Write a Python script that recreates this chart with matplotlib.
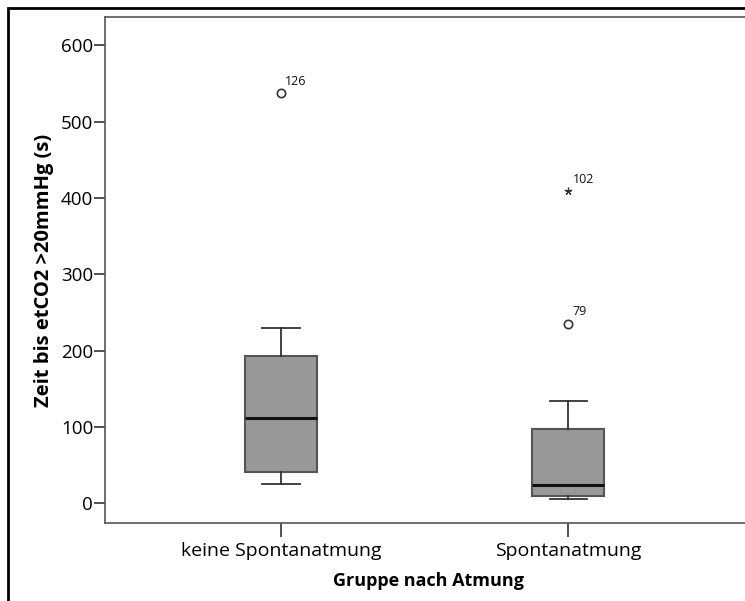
import matplotlib.pyplot as plt
from matplotlib.patches import Rectangle

# Werte
gruppen = ['keine Spontanatmung', 'Spontanatmung']
whisker_unten = [25, 5]
q1 = [41, 10]
median = [111, 24]
q3 = [193, 97]
whisker_oben = [230, 134]
ausreisser_kreis = [[537], [235]]
ausreisser_stern = [[], [409]]
kreis_label = [['126'], ['79']]
stern_label = [[], ['102']]

plt.rcParams['font.family'] = ['Open Sans', 'DejaVu Sans']

fig = plt.figure(figsize=(7.45, 6.01), dpi=100)
ax = fig.add_axes([105 / 745, 1 - 523 / 601, 1 - 105 / 745 + 0.01, (523 - 17) / 601])

stats = []
for i in range(len(gruppen)):
    stats.append({'label': gruppen[i], 'whislo': whisker_unten[i], 'q1': q1[i],
                  'med': median[i], 'q3': q3[i], 'whishi': whisker_oben[i],
                  'fliers': []})

pos = [1, 2]
ax.bxp(stats, positions=pos, widths=0.25, patch_artist=True, showfliers=False,
       boxprops=dict(facecolor='#999999', edgecolor='#555555', linewidth=1.5),
       medianprops=dict(color='#111111', linewidth=2.2),
       whiskerprops=dict(color='#333333', linewidth=1.3),
       capprops=dict(color='#333333', linewidth=1.3), capwidths=0.13)

for i, p in enumerate(pos):
    for v, lab in zip(ausreisser_kreis[i], kreis_label[i]):
        ax.plot(p, v, 'o', mfc='white', mec='#333333', ms=6, mew=1.2)
        ax.annotate(lab, (p, v), xytext=(3, 6), textcoords='offset points',
                    fontsize=9, color='#111111')
    for v, lab in zip(ausreisser_stern[i], stern_label[i]):
        ax.plot(p, v, marker=(5, 2, 0), color='#333333', ms=5.5, mew=0.9)
        ax.annotate(lab, (p, v), xytext=(3, 6), textcoords='offset points',
                    fontsize=9, color='#111111')

ax.set_xlim(0.387, 2.641)
ax.set_ylim(-26, 637)
ax.set_yticks([0, 100, 200, 300, 400, 500, 600])
ax.set_xticks(pos)
ax.set_xticklabels(gruppen, fontsize=14)
ax.tick_params(axis='y', labelsize=13.5, length=8, width=1.2, color='#333333', pad=0.5)
ax.tick_params(axis='x', length=10, width=1.2, color='#333333', pad=4)

for s in ['left', 'top', 'bottom']:
    ax.spines[s].set_color('#555555')
    ax.spines[s].set_linewidth(1.2)
ax.spines['right'].set_visible(False)

ax.set_ylabel('Zeit bis etCO2 >20mmHg (s)', fontsize=14.5, fontweight='bold', labelpad=5)
ax.set_xlabel('Gruppe nach Atmung', fontsize=13, fontweight='bold', labelpad=8)

# äußerer schwarzer Rahmen
fig.patches.append(Rectangle((8 / 745, -0.1), 1.2, 1.1 - 8 / 601, transform=fig.transFigure,
                             fill=False, edgecolor='black', linewidth=2))

fig.savefig('out.png', dpi=100)
